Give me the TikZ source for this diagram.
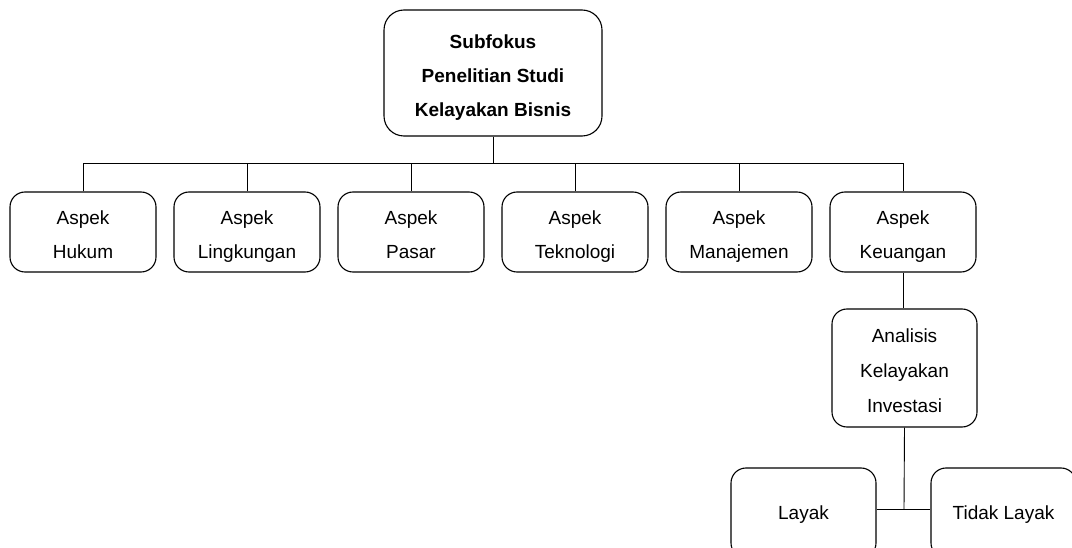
\documentclass[tikz,border=0pt]{standalone}
\usepackage{fontspec}
\setmainfont{Liberation Sans}
\begin{document}
\begin{tikzpicture}[x=1pt,y=-1pt,
  box/.style={draw=black,line width=1.1pt,rounded corners=15pt,minimum width=146pt,minimum height=80pt,inner sep=0pt},
  topbox/.style={box,rounded corners=20pt,minimum width=218pt,minimum height=126pt},
  tallbox/.style={box,minimum width=145pt,minimum height=118pt},
  endbox/.style={box,minimum width=145pt,minimum height=90pt},
  txt/.style={anchor=base,inner sep=0pt,font=\fontsize{19}{23}\selectfont},
  bold/.style={txt,font=\fontsize{19}{23}\selectfont\bfseries},
  conn/.style={draw=black,line width=0.9pt}]
\useasboundingbox (0,0) rectangle (1072,548);
\clip (0,0) rectangle (1072,548);
% top box
\node[topbox] (top) at (493,73) {};
\node[bold] (top1) at (493,48.5) {Subfokus};
\node[bold] (top2) at (493,82.5) {Penelitian Studi};
\node[bold] (top3) at (493,116.5) {Kelayakan Bisnis};
% aspects
\node[box] (h1) at (83,232) {};
\node[box] (h2) at (247,232) {};
\node[box] (h3) at (411,232) {};
\node[box] (h4) at (575,232) {};
\node[box] (h5) at (739,232) {};
\node[box] (h6) at (903,232) {};
\node[txt] (h1a) at (83,225) {Aspek};  \node[txt] (h1b) at (83,259) {Hukum};
\node[txt] (h2a) at (247,225) {Aspek}; \node[txt] (h2b) at (247,259) {Lingkungan};
\node[txt] (h3a) at (411,225) {Aspek}; \node[txt] (h3b) at (411,259) {Pasar};
\node[txt] (h4a) at (575,225) {Aspek}; \node[txt] (h4b) at (575,259) {Teknologi};
\node[txt] (h5a) at (739,225) {Aspek}; \node[txt] (h5b) at (739,259) {Manajemen};
\node[txt] (h6a) at (903,225) {Aspek}; \node[txt] (h6b) at (903,259) {Keuangan};
% analysis
\node[tallbox] (an) at (904.5,368) {};
\node[txt] (an1) at (904.5,343) {Analisis};
\node[txt] (an2) at (904.5,377.5) {Kelayakan};
\node[txt] (an3) at (904.5,412) {Investasi};
% results
\node[endbox] (layak) at (803.5,513) {};
\node[endbox] (tidak) at (1003.5,513) {};
\node[txt] (layakt) at (803.5,519) {Layak};
\node[txt] (tidakt) at (1003.5,519) {Tidak Layak};
% connectors
\coordinate (bus) at (493,163);
\draw[conn] (top.south) -- (bus);
\draw[conn] (h1.north) -- (h1.north |- bus) -- (h6.north |- bus) -- (h6.north);
\foreach \n in {h2,h3,h4,h5} {\draw[conn] (\n.north) -- (\n.north |- bus);}
\draw[conn] (h6.south) -- (h6.south |- an.north);
\coordinate (split) at (904,509);
\draw[conn] (an.south) -- (split);
\draw[conn] (layak.east |- split) -- (tidak.west |- split);
\end{tikzpicture}
\end{document}
